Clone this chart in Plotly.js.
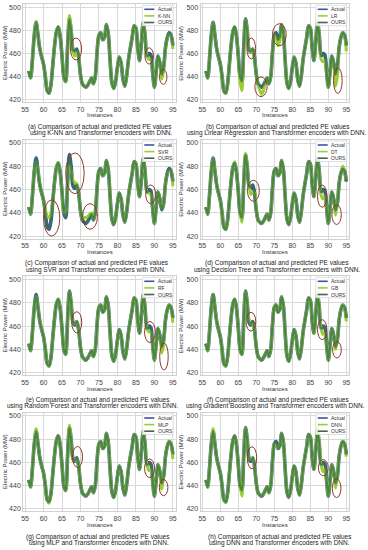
<!DOCTYPE html>
<html><head><meta charset="utf-8">
<script src="https://cdn.plot.ly/plotly-3.0.1.min.js"></script>
<style>html,body{margin:0;padding:0;background:#fff}#chart{width:368px;height:550px}</style>
</head><body><div id="chart"></div>
<script>
const instances = [56,56.5,57,57.5,58,58.5,59,59.5,60,60.5,
 61,61.5,62,62.5,63,63.5,64,64.5,65,65.5,
 66,66.5,67,67.5,68,68.5,69,69.5,70,70.5,
 71,71.5,72,72.5,73,73.5,74,74.5,75,75.5,
 76,76.5,77,77.5,78,78.5,79,79.5,80,80.5,
 81,81.5,82,82.5,83,83.5,84,84.5,85,85.5,
 86,86.5,87,87.5,88,88.5,89,89.5,90,90.5,
 91,91.5,92,92.5,93,93.5,94,94.5,95];

const actual = [445,439,455,476,487,476,464,457,451,440,
 428,426,433,450,467,479,483,475,458,440,
 436,465,490,479,463,461,464,457,442,434,
 432,431,433,436,439,434,440,462,476,478,
 472,474,485,478,455,435,430,436,448,457,
 452,438,432,441,455,465,474,484,482,465,
 454,470,487,475,458,460,459,445,431,445,
 458,452,443,448,465,474,478,476,467];

const ours = [445,439,455,476,487,476,464,457,451,440,
 428,426,433,450,467,479,483,475,458,440,
 436,465,490,479,463,462,464,457,442,434,
 432,431,433,436,439,434,440,462,476,478,
 472,474,485,478,455,435,430,436,448,457,
 452,438,432,441,455,465,474,484,482,465,
 454,470,487,475,458,459,459,445,431,445,
 458,452,442,448,465,474,478,476,467];

const knn = [445,439,455,476,488,476,464,457,451,440,
 428,426,433,450,467,479,483,475,458,440,
 436,465,493,481,462,458,462,457,442,434,
 432,431,433,436,439,434,440,462,476,478,
 472,474,485,478,455,435,430,436,448,457,
 452,438,432,441,455,465,474,484,482,465,
 454,470,487,475,458,455,455,445,431,445,
 458,452,438,445,465,474,477,476,464];

const lr = [445,439,455,476,487,476,464,457,451,440,
 428,426,433,450,467,479,483,475,458,436,
 428,460,490,479,463,461,464,457,442,434,
 428,425,428,436,439,434,440,462,476,474,
 467,470,485,478,455,435,430,436,448,457,
 452,438,432,441,455,465,474,484,482,465,
 454,470,489,475,455,453,454,445,431,445,
 458,452,432,440,465,474,478,476,462];

const svr = [445,439,455,476,484,476,464,457,451,443,
 437,436,440,450,467,479,483,475,458,440,
 440,465,481,476,468,466,465,457,442,434,
 436,436,437,439,440,434,440,462,476,478,
 472,474,485,478,455,435,430,436,448,457,
 452,438,432,441,455,465,474,484,482,465,
 454,470,487,475,458,457,456,445,431,445,
 458,452,444,448,465,474,476,476,463];

const dt = [445,439,455,476,487,476,464,457,451,440,
 428,426,433,450,467,479,484,475,458,440,
 432,465,491,479,463,456,458,457,442,434,
 432,431,433,436,439,434,440,462,476,478,
 472,474,485,478,455,435,430,436,448,457,
 452,438,432,441,455,465,474,484,482,465,
 454,470,487,475,455,452,454,445,431,445,
 458,452,438,448,465,474,480,476,468];

const rf = [445,439,455,476,486,476,464,457,451,440,
 428,426,433,450,467,479,483,475,458,440,
 436,465,490,479,463,462,464,457,442,434,
 432,431,433,436,439,434,440,462,476,478,
 472,474,485,478,455,435,430,436,448,457,
 452,438,432,441,455,465,474,484,482,465,
 454,470,487,475,458,455,455,445,431,445,
 458,452,437,444,465,474,478,476,463];

const gb = [445,439,455,476,487,476,464,457,451,440,
 428,426,433,450,467,479,483,475,458,440,
 436,465,490,479,465,462,462,457,442,434,
 432,431,433,436,439,434,440,462,476,478,
 472,474,485,478,455,435,430,436,448,457,
 452,438,432,441,455,465,474,484,482,465,
 454,470,489,475,458,453,454,445,431,445,
 458,452,440,448,465,474,478,476,464];

const mlp = [445,439,455,476,489,476,464,457,451,440,
 428,425,433,450,467,479,483,475,458,440,
 436,465,492,479,463,462,463,457,442,434,
 432,431,433,436,439,434,440,462,476,478,
 472,474,485,478,455,435,430,436,448,457,
 452,438,432,441,455,465,474,484,482,465,
 454,470,487,475,458,453,454,445,431,445,
 458,452,437,448,465,474,478,476,463];

const dnn = [445,439,455,476,489,476,464,457,451,440,
 428,426,433,450,467,479,483,475,458,440,
 431,465,490,479,463,463,464,457,442,434,
 432,431,433,436,439,434,440,462,476,475,
 472,474,485,478,455,435,430,436,448,457,
 452,438,432,441,455,465,474,484,482,465,
 454,470,490,475,458,452,454,445,431,445,
 458,452,438,448,465,474,478,476,465];

const modelNames = ['K-NN','LR','SVR','DT','RF','GB','MLP','DNN'];
const modelSeries = [knn, lr, svr, dt, rf, gb, mlp, dnn];
const captionLine1 = ['(a) Comparison of actual and predicted PE values','(b) Comparison of actual and predicted PE values',
 '(c) Comparison of actual and predicted PE values','(d) Comparison of actual and predicted PE values',
 '(e) Comparison of actual and predicted PE values','(f) Comparison of actual and predicted PE values',
 '(g) Comparison of actual and predicted PE values','(h) Comparison of actual and predicted PE values'];
const captionLine2 = ['using K-NN and Transformer encoders with DNN.','using Linear Regression and Transformer encoders with DNN.',
 'using SVR and Transformer encoders with DNN.','using Decision Tree and Transformer encoders with DNN.',
 'using Random Forest and Transformer encoders with DNN.','using Gradient Boosting and Transformer encoders with DNN.',
 'using MLP and Transformer encoders with DNN.','using DNN and Transformer encoders with DNN.'];
const xTicks = [55,60,65,70,75,80,85,90,95];
const yTicks = [420,440,460,480,500];
// highlighted regions: [centerX, centerY, width(instances), height(MW)]
const highlights = [
 [[68.8,464,3.0,19],[88.6,458,2.3,14],[92.4,440,2.0,13]],
 [[68.6,464.4,2.4,18],[71.3,431.4,3.4,17],[76.4,476.3,3.8,19],[92.65,436.7,2.4,22]],
 [[62.2,435.7,4.4,31],[68.5,474,5.0,35],[72.6,437,4.0,22],[89.0,456,2.7,16]],
 [[69.2,459,3.3,18],[88.3,454.4,2.6,19],[92.3,438.6,2.6,17]],
 [[69.0,463.3,2.7,18],[88.8,455,2.9,18],[92.6,434,2.3,23]],
 [[68.5,463.8,2.7,16],[88.3,457,2.6,17],[92.4,439.8,2.4,14]],
 [[69.2,464.8,2.7,18],[88.7,455,2.7,16],[92.5,438.4,2.3,14]],
 [[68.8,464,2.6,19],[88.6,455.5,2.7,14],[92.3,437.8,2.4,16]]
];

const W = 368, H = 550;
const colX = [[23.2,175.8],[200.5,349.2]];
const rowY = [[3.8,102.3],[139.5,238.6],[275.8,375.3],[412.5,511.3]];
const captionY = [[126.7,133.1],[263.5,269.9],[400,406.4],[537,543.4]];
const captionX1 = [100,278,96.5,277,97.5,277.5,97.5,279.5];
const captionX2 = [101,276.5,96,276.5,92.5,275.5,99,279];
const titleY = [115.3,252,388.5,525];
const yTitleX = [5,180.6];
const px = p => p / W;
const py = p => 1 - p / H;

const C_ACT = '#37569e', C_MOD = '#9acd32', C_OURS = 'rgba(58,118,72,0.82)';
const FONT = 'Liberation Sans, Arial, sans-serif';
const data = [];
const layout = {
  width: W, height: H, margin: {l:0,r:0,t:0,b:0},
  paper_bgcolor: '#fff', plot_bgcolor: '#fff', showlegend: false,
  font: {family: FONT, color: '#333'},
  shapes: [], annotations: []
};

for (let i = 0; i < 8; i++) {
  const col = i % 2, row = Math.floor(i / 2);
  const s = i === 0 ? '' : String(i + 1);
  const xa = 'x' + s, ya = 'y' + s;
  const [xl, xr] = colX[col];
  const [yt, yb] = rowY[row];
  layout['xaxis' + s] = {
    domain: [px(xl), px(xr)], anchor: ya, range: [54.5, 95.8],
    tickvals: xTicks, ticks: '', showgrid: true, gridcolor: '#d9d9d9', gridwidth: 1,
    zeroline: false, showline: true, mirror: true, linecolor: '#d0d0d0', linewidth: 1,
    tickfont: {size: 7, color: '#444', family: FONT}, ticklabelstandoff: 0, fixedrange: true
  };
  layout['yaxis' + s] = {
    domain: [py(yb), py(yt)], anchor: xa, range: [418, 503],
    tickvals: yTicks, ticks: '', showgrid: true, gridcolor: '#d9d9d9', gridwidth: 1,
    zeroline: false, showline: true, mirror: true, linecolor: '#d0d0d0', linewidth: 1,
    tickfont: {size: 7, color: '#444', family: FONT}, ticklabelstandoff: 0, fixedrange: true
  };
  data.push({x: instances, y: actual, xaxis: xa, yaxis: ya, mode: 'lines', name: 'Actual',
    line: {color: C_ACT, width: 3.6, shape: 'spline', smoothing: 0.9}});
  data.push({x: instances, y: modelSeries[i], xaxis: xa, yaxis: ya, mode: 'lines', name: modelNames[i],
    line: {color: C_MOD, width: 3.0, shape: 'spline', smoothing: 0.9}});
  data.push({x: instances, y: ours, xaxis: xa, yaxis: ya, mode: 'lines', name: 'OURS',
    line: {color: C_OURS, width: 2.3, shape: 'spline', smoothing: 0.9}});

  highlights[i].forEach(h => {
    layout.shapes.push({type: 'circle', xref: xa, yref: ya,
      x0: h[0] - h[2] / 2, x1: h[0] + h[2] / 2, y0: h[1] - h[3] / 2, y1: h[1] + h[3] / 2,
      line: {color: '#8e3b2c', width: 1}, fillcolor: 'rgba(0,0,0,0)'});
  });

  // legend box
  const bR = xr - 2.5, bL = bR - 31, bT = yt + 1.5, bB = bT + 20.5;
  layout.shapes.push({type: 'rect', xref: 'paper', yref: 'paper', x0: px(bL), x1: px(bR), y0: py(bB), y1: py(bT),
    line: {color: '#d8d8d8', width: 0.8}, fillcolor: 'rgba(255,255,255,0.85)'});
  const legNames = ['Actual', modelNames[i], 'OURS'];
  const legCols = [C_ACT, C_MOD, '#4d5f4f'];
  for (let k = 0; k < 3; k++) {
    const yy = bT + 4 + k * 6.6;
    layout.shapes.push({type: 'line', xref: 'paper', yref: 'paper', x0: px(bL + 2), x1: px(bL + 12), y0: py(yy), y1: py(yy),
      line: {color: legCols[k], width: 1.6}});
    layout.annotations.push({xref: 'paper', yref: 'paper', x: px(bL + 13.5), y: py(yy), xanchor: 'left', yanchor: 'middle',
      text: legNames[k], showarrow: false, font: {size: 5, color: '#333', family: FONT}});
  }

  // axis titles
  const xc = (xl + xr) / 2;
  layout.annotations.push({xref: 'paper', yref: 'paper', x: px(xc), y: py(titleY[row]), xanchor: 'center', yanchor: 'middle',
    text: 'Instances', showarrow: false, font: {size: 6, color: '#333', family: FONT}});
  layout.annotations.push({xref: 'paper', yref: 'paper', x: px(yTitleX[col]), y: py((yt + yb) / 2), xanchor: 'center', yanchor: 'middle',
    text: 'Electric Power (MW)', textangle: -90, showarrow: false, font: {size: 6, color: '#333', family: FONT}});
  // captions
  layout.annotations.push({xref: 'paper', yref: 'paper', x: px(captionX1[i]), y: py(captionY[row][0]), xanchor: 'center', yanchor: 'middle',
    text: captionLine1[i], showarrow: false, font: {size: 6.5, color: '#222', family: FONT}});
  layout.annotations.push({xref: 'paper', yref: 'paper', x: px(captionX2[i]), y: py(captionY[row][1]), xanchor: 'center', yanchor: 'middle',
    text: captionLine2[i], showarrow: false, font: {size: 6.5, color: '#222', family: FONT}});
}

Plotly.newPlot('chart', data, layout, {staticPlot: true, displayModeBar: false});
</script></body></html>
